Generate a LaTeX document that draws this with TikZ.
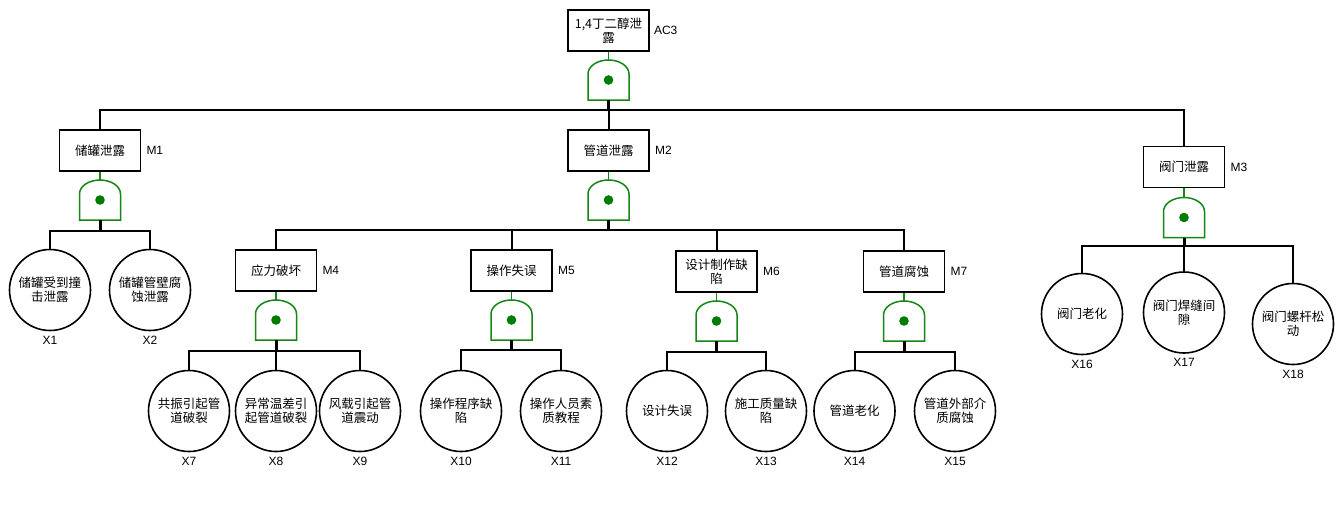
\documentclass[tikz,border=0pt]{standalone}
\usepackage{fontspec}
\setmainfont{Liberation Sans}
\newfontfamily\cjk{Noto Sans CJK SC}
\usetikzlibrary{calc}
\definecolor{gatecol}{RGB}{20,135,20}
\definecolor{dotcol}{RGB}{0,125,0}
\tikzset{
  evt/.style={draw, line width=1.6pt, rectangle, minimum width=81pt, minimum height=41pt, inner sep=1pt, align=center, font=\cjk\fontsize{12.5}{14}\selectfont},
  basic/.style={draw, line width=1.6pt, circle, minimum size=81pt, inner sep=0pt, align=center, font=\cjk\fontsize{12.5}{14}\selectfont},
  lbl/.style={font=\fontsize{12}{14}\selectfont, inner sep=0pt},
  gatebox/.style={minimum width=41pt, minimum height=40pt, inner sep=0pt, outer sep=0pt},
  gateline/.style={draw=gatecol, line width=1.5pt},
  stem/.style={draw=gatecol, line width=1.5pt},
  wire/.style={draw=black, line width=2pt},
  gstem/.style={draw=black, line width=3pt},
}
\newcommand\andgate[3]{%
  \node[gatebox] (#1) at (#2,#3) {};
  \draw[gateline] (#1.south west) -- ++(0,-26) arc[start angle=180, end angle=0, x radius=20.5pt, y radius=14pt] -- (#1.south east) -- cycle;
  \fill[dotcol] (#1.center) circle[radius=4.8pt];
}
\begin{document}
\begin{tikzpicture}[x=1pt, y=-1pt]
\useasboundingbox[fill=white] (0,0) rectangle (1342,511);

% top event
\node[evt] (ac3) at (608.5,30.5) {1,4丁二醇泄\\露};
\node[lbl, anchor=west] (lac3) at ($(ac3.east)+(4,0)$) {AC3};
\andgate{g0}{608.5}{80}
\draw[stem] (ac3.south) -- (g0.north);

% level 1
\node[evt] (m1) at (100,150.5) {储罐泄露};
\node[evt] (m2) at (608.5,150.5) {管道泄露};
\node[evt] (m3) at (1184,167) {阀门泄露};
\node[lbl, anchor=west] (lm1) at ($(m1.east)+(5,0)$) {M1};
\node[lbl, anchor=west] (lm2) at ($(m2.east)+(5,0)$) {M2};
\node[lbl, anchor=west] (lm3) at ($(m3.east)+(5,0)$) {M3};
\coordinate (bar0) at (608.5,110);
\draw[gstem] (g0.south) -- (bar0);
\draw[wire] (bar0) -| (m1.north);
\draw[wire] (bar0) -| (m3.north);
\draw[wire] (bar0) -- (m2.north);

% M1 branch
\andgate{g1}{100}{200}
\draw[stem] (m1.south) -- (g1.north);
\node[basic] (x1) at (50,290) {储罐受到撞\\击泄露};
\node[basic] (x2) at (150,290) {储罐管壁腐\\蚀泄露};
\coordinate (bar1) at (100,231);
\draw[gstem] (g1.south) -- (bar1);
\draw[wire] (bar1) -| (x1.north);
\draw[wire] (bar1) -| (x2.north);

% M2 branch
\andgate{g2}{608.5}{200}
\draw[stem] (m2.south) -- (g2.north);
\node[evt] (m4) at (276,270.5) {应力破坏};
\node[evt] (m5) at (511.5,270.5) {操作失误};
\node[evt] (m6) at (716.5,271.5) {设计制作缺\\陷};
\node[evt] (m7) at (904,271.5) {管道腐蚀};
\node[lbl, anchor=west] (lm4) at ($(m4.east)+(5,0)$) {M4};
\node[lbl, anchor=west] (lm5) at ($(m5.east)+(5,0)$) {M5};
\node[lbl, anchor=west] (lm6) at ($(m6.east)+(5,0)$) {M6};
\node[lbl, anchor=west] (lm7) at ($(m7.east)+(5,0)$) {M7};
\coordinate (bar2) at (608.5,230);
\draw[gstem] (g2.south) -- (bar2);
\draw[wire] (bar2) -| (m4.north);
\draw[wire] (bar2) -| (m5.north);
\draw[wire] (bar2) -| (m6.north);
\draw[wire] (bar2) -| (m7.north);

% M4 branch
\andgate{g4}{276}{320}
\draw[stem] (m4.south) -- (g4.north);
\node[basic] (x7) at (189,411) {共振引起管\\道破裂};
\node[basic] (x8) at (276,411) {异常温差引\\起管道破裂};
\node[basic] (x9) at (360,411) {风载引起管\\道震动};
\coordinate (bar4) at (276,351);
\draw[gstem] (g4.south) -- (bar4);
\draw[wire] (bar4) -| (x7.north);
\draw[wire] (bar4) -- (x8.north);
\draw[wire] (bar4) -| (x9.north);

% M5 branch
\andgate{g5}{511.5}{320}
\draw[stem] (m5.south) -- (g5.north);
\node[basic] (x10) at (461,411) {操作程序缺\\陷};
\node[basic] (x11) at (561,411) {操作人员素\\质教程};
\coordinate (bar5) at (511.5,350);
\draw[gstem] (g5.south) -- (bar5);
\draw[wire] (bar5) -| (x10.north);
\draw[wire] (bar5) -| (x11.north);

% M6 branch
\andgate{g6}{716.5}{321}
\draw[stem] (m6.south) -- (g6.north);
\node[basic] (x12) at (667,411) {设计失误};
\node[basic] (x13) at (766,411) {施工质量缺\\陷};
\coordinate (bar6) at (716.5,352);
\draw[gstem] (g6.south) -- (bar6);
\draw[wire] (bar6) -| (x12.north);
\draw[wire] (bar6) -| (x13.north);

% M7 branch
\andgate{g7}{904}{321}
\draw[stem] (m7.south) -- (g7.north);
\node[basic] (x14) at (854.5,411) {管道老化};
\node[basic] (x15) at (955,411) {管道外部介\\质腐蚀};
\coordinate (bar7) at (904,352);
\draw[gstem] (g7.south) -- (bar7);
\draw[wire] (bar7) -| (x14.north);
\draw[wire] (bar7) -| (x15.north);

% M3 branch
\andgate{g3}{1184}{217.5}
\draw[stem] (m3.south) -- (g3.north);
\node[basic] (x16) at (1082,314) {阀门老化};
\node[basic] (x17) at (1184,312.5) {阀门焊缝间\\隙};
\node[basic] (x18) at (1293,324) {阀门螺杆松\\动};
\coordinate (bar3) at (1184,246);
\draw[gstem] (g3.south) -- (bar3);
\draw[wire] (bar3) -| (x16.north);
\draw[wire] (bar3) -- (x17.north);
\draw[wire] (bar3) -| (x18.north);

% basic event labels
\foreach \n/\t in {x1/X1,x2/X2,x7/X7,x8/X8,x9/X9,x10/X10,x11/X11,x12/X12,x13/X13,x14/X14,x15/X15,x16/X16,x17/X17,x18/X18}{
  \node[lbl] (l\n) at ($(\n.south)+(0,9)$) {\t};
}
\end{tikzpicture}
\end{document}
